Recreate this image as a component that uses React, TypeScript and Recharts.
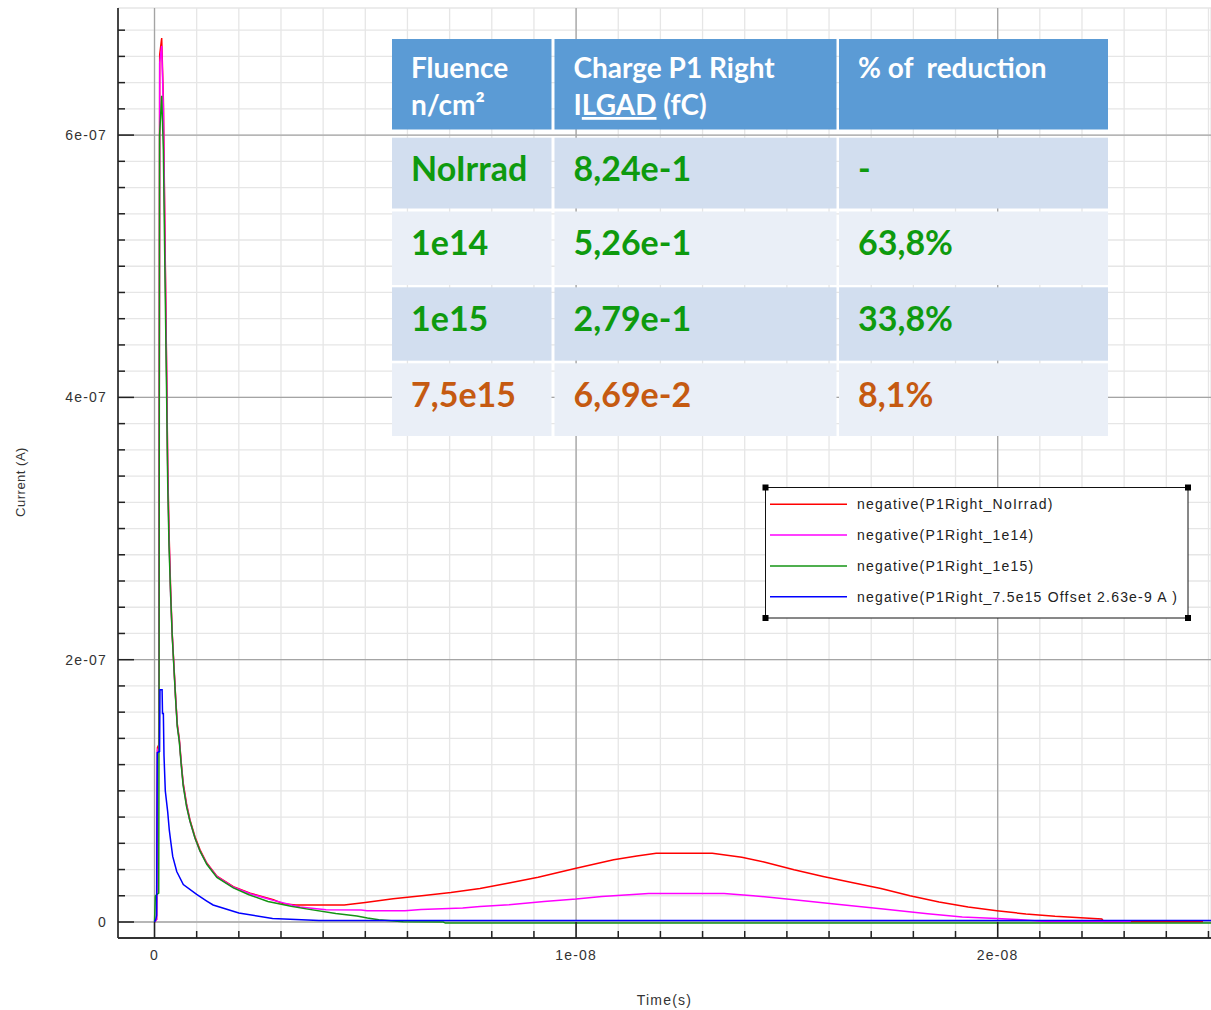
import React from 'react';
import { LineChart, Line, XAxis, YAxis, CartesianGrid, Legend } from 'recharts';

// ---- Series data: time in ns, current in nA (negated signals) ----
const noIrradTimeNs = [0, 0.05, 0.07, 0.1, 0.115, 0.123, 0.17, 0.21, 0.25, 0.29, 0.313, 0.344, 0.384, 0.42, 0.46, 0.5, 0.54, 0.59, 0.63, 0.68, 0.76, 0.84, 0.96, 1.08, 1.24, 1.48, 1.87, 2.27, 2.82, 3.05, 3.35, 4.5, 5.0, 5.66, 6.34, 7.03, 7.72, 8.41, 9.1, 10.0, 10.89, 11.44, 11.9, 13.23, 13.93, 14.48, 15.17, 15.86, 16.54, 17.23, 17.92, 18.61, 19.3, 19.98, 20.67, 21.36, 22.47, 22.52, 24.87];
const noIrradCurrentNa = [0, 2, 133, 135, 450, 661, 674, 627, 518, 415, 349, 298, 252, 220, 196, 172, 151, 139, 123, 106, 90, 78, 65, 55, 45, 35, 27, 22, 17, 14, 12.9, 12.9, 14.9, 17.7, 20.0, 22.5, 25.6, 29.7, 34.2, 41, 47.4, 50.4, 52.5, 52.5, 49.4, 45.6, 39.8, 34.7, 30.1, 25.6, 20.0, 15.2, 11.4, 8.6, 6.1, 4.3, 2.3, 0.2, 0.2];

const fluence1e14TimeNs = [0, 0.05, 0.07, 0.1, 0.115, 0.123, 0.17, 0.21, 0.25, 0.29, 0.313, 0.344, 0.384, 0.42, 0.46, 0.5, 0.54, 0.59, 0.63, 0.68, 0.76, 0.84, 0.96, 1.08, 1.24, 1.48, 1.87, 2.27, 2.82, 3.45, 4.07, 4.9, 5.04, 5.94, 6.32, 7.31, 7.72, 8.41, 9.24, 10.0, 10.61, 11.72, 13.51, 14.2, 15.17, 16.13, 17.23, 18.34, 19.16, 19.98, 20.47, 21.2, 23.16];
const fluence1e14CurrentNa = [0, 2, 131, 133, 445, 655, 668, 622, 512, 410, 344, 293, 248, 219, 195, 171, 150, 138, 122, 105, 89, 77, 64, 54, 44.5, 34.5, 26.5, 21.5, 16.5, 11.4, 9.4, 9.2, 8.6, 8.6, 9.5, 10.6, 11.9, 13.2, 15.7, 17.5, 19.5, 21.7, 21.7, 20.0, 17.0, 13.7, 10.1, 6.3, 3.8, 2.6, 2.0, 0.2, 0.2];

const fluence1e15TimeNs = [0, 0.02, 0.1, 0.107, 0.12, 0.17, 0.21, 0.25, 0.29, 0.313, 0.344, 0.384, 0.42, 0.46, 0.5, 0.54, 0.59, 0.63, 0.68, 0.76, 0.84, 0.96, 1.08, 1.24, 1.48, 1.87, 2.24, 2.69, 3.24, 3.6, 4.3, 4.8, 5.05, 5.32, 5.9, 6.85, 6.9, 25.1];
const fluence1e15CurrentNa = [0, 20, 22, 150, 600, 630, 589, 490, 395, 335, 287, 248, 218, 194, 170, 149, 137, 121, 104, 88, 77, 64, 54, 44, 34, 26, 20.8, 15.7, 12, 10, 6.5, 4.5, 3.0, 1.7, 0.2, 0, -0.8, -0.8];

const fluence7e15TimeNs = [0, 0.03, 0.05, 0.065, 0.12, 0.13, 0.18, 0.19, 0.21, 0.225, 0.256, 0.313, 0.351, 0.391, 0.432, 0.527, 0.683, 1.0, 1.24, 1.39, 2.0, 2.8, 3.9, 25.1];
const fluence7e15CurrentNa = [0, 2, 5, 129, 130, 177, 177, 159, 159, 127, 100, 84, 70, 60, 50, 38.5, 28.5, 21, 16, 13, 6.8, 2.7, 1.2, 1.2];

const seriesNames = [
  'negative(P1Right_NoIrrad)',
  'negative(P1Right_1e14)',
  'negative(P1Right_1e15)',
  'negative(P1Right_7.5e15 Offset 2.63e-9 A )',
];
const seriesColors = ['#ff0000', '#ff00ff', '#149414', '#0000ff'];

// ---- Table contents ----
const tableHeaderLine1 = ['Fluence', 'Charge P1 Right', '% of  reduction'];
const fluenceLabels = ['NoIrrad', '1e14', '1e15', '7,5e15'];
const chargeLabels = ['8,24e-1', '5,26e-1', '2,79e-1', '6,69e-2'];
const reductionLabels = ['-', '63,8%', '33,8%', '8,1%'];
const rowTextColors = ['#0e9a0e', '#0e9a0e', '#0e9a0e', '#c55a11'];

// ---- Axes ----
const NS = 1e-9;
const NA = 1e-9;
const xDomain = [-0.866 * NS, 25.06 * NS];
const yDomain = [-12.2 * NA, 696.9 * NA];
const xTicks = Array.from({ length: 26 }, (_, k) => k * NS);
const yTicks = Array.from({ length: 35 }, (_, k) => k * 20 * NA);
const xMajorValues = [0, 1e-8, 2e-8];
const yMajorValues = [0, 2e-7, 4e-7, 6e-7];

const toPoints = (ts: number[], vs: number[]) => ts.map((t, i) => ({ t: t * NS, v: vs[i] * NA }));
const seriesData = [
  toPoints(noIrradTimeNs, noIrradCurrentNa),
  toPoints(fluence1e14TimeNs, fluence1e14CurrentNa),
  toPoints(fluence1e15TimeNs, fluence1e15CurrentNa),
  toPoints(fluence7e15TimeNs, fluence7e15CurrentNa),
];

const AXIS_FONT = '"Liberation Sans", Arial, sans-serif';
const TABLE_FONT = 'Lato, "Open Sans", sans-serif';

function XTick(props: any) {
  const { x, y, payload } = props;
  const k = Math.round(payload.value / NS);
  const major = k % 10 === 0;
  return (
    <g>
      <line x1={x} x2={x} y1={y} y2={y - (major ? 16 : 7)} stroke="#222" strokeWidth={1.5} />
      {major && (
        <text x={x} y={y + 21.5} textAnchor="middle" fontSize={14} letterSpacing={1.2} fill="#333" fontFamily={AXIS_FONT}>
          {k === 0 ? '0' : `${k / 10}e-08`}
        </text>
      )}
    </g>
  );
}

function YTick(props: any) {
  const { x, y, payload } = props;
  const k = Math.round(payload.value / (20 * NA));
  const major = k % 10 === 0;
  return (
    <g>
      <line x1={x} x2={x + (major ? 16 : 7)} y1={y} y2={y} stroke="#222" strokeWidth={1.5} />
      {major && (
        <text x={x - 11} y={y + 5} textAnchor="end" fontSize={14} letterSpacing={1.2} fill="#333" fontFamily={AXIS_FONT}>
          {k === 0 ? '0' : `${k / 5}e-07`}
        </text>
      )}
    </g>
  );
}

function TimeLabel(props: any) {
  const { viewBox } = props;
  return (
    <text x={viewBox.x + viewBox.width / 2} y={viewBox.y + 67} textAnchor="middle" fontSize={14} letterSpacing={1.2} fill="#333" fontFamily={AXIS_FONT}>
      Time(s)
    </text>
  );
}

function CurrentLabel(props: any) {
  const { viewBox } = props;
  const cx = viewBox.x + 25;
  const cy = 482;
  return (
    <text x={cx} y={cy} transform={`rotate(-90, ${cx}, ${cy})`} textAnchor="middle" fontSize={13} letterSpacing={0.5} fill="#333" fontFamily={AXIS_FONT}>
      Current (A)
    </text>
  );
}

function LegendBox(props: any) {
  const items = [...(props.payload || [])].sort(
    (a: any, b: any) => seriesNames.indexOf(a.value) - seriesNames.indexOf(b.value)
  );
  const W = 429;
  const H = 138;
  const corners = [
    [3.5, 3.5],
    [426, 3.5],
    [3.5, 134],
    [426, 134],
  ];
  return (
    <svg width={W} height={H} style={{ display: 'block' }}>
      <rect x={3.5} y={3.5} width={422.5} height={130.5} fill="#fff" stroke="#111" strokeWidth={1} />
      {corners.map(([cx, cy], i) => (
        <rect key={i} x={cx - 3} y={cy - 3} width={6} height={6} fill="#000" />
      ))}
      {items.map((it: any, i: number) => {
        const yy = 20.3 + i * 30.8;
        return (
          <g key={it.value}>
            <line x1={8} x2={85} y1={yy} y2={yy} stroke={it.color} strokeWidth={1.5} />
            <text x={95} y={yy + 5} fontSize={14} letterSpacing={1.2} fill="#222" fontFamily={AXIS_FONT}>
              {it.value}
            </text>
          </g>
        );
      })}
    </svg>
  );
}

// ---- Table geometry ----
const colLeft = [392, 554.5, 839];
const colRight = [551.5, 836.5, 1108];
const headerTop = 39;
const headerBottom = 129.5;
const rowTop = [137.7, 211.5, 287.3, 363.3];
const rowBottom = [208.5, 285, 360.7, 436];
const rowFills = ['#d2deef', '#eaeff7', '#d2deef', '#eaeff7'];

function ResultsTable() {
  const textX = colLeft.map((l) => l + 19);
  return (
    <svg width={1211} height={1010} style={{ position: 'absolute', left: 0, top: 0, pointerEvents: 'none' }}>
      {colLeft.map((l, c) => (
        <rect key={`h${c}`} x={l} y={headerTop} width={colRight[c] - l} height={headerBottom - headerTop} fill="#5b9bd5" />
      ))}
      {rowTop.map((t, r) =>
        colLeft.map((l, c) => (
          <rect key={`c${r}-${c}`} x={l} y={t} width={colRight[c] - l} height={rowBottom[r] - t} fill={rowFills[r]} />
        ))
      )}
      <g fontFamily={TABLE_FONT} fontWeight={700} fontSize={28} fill="#fff">
        {tableHeaderLine1.map((s, c) => (
          <text key={`hl${c}`} x={textX[c]} y={78} xmlSpace="preserve" style={{ whiteSpace: 'pre' }}>{s}</text>
        ))}
        <text x={textX[0]} y={115}>n/cm²</text>
        <text x={textX[1]} y={115} xmlSpace="preserve" style={{ whiteSpace: 'pre' }}>
          I<tspan style={{ textDecoration: 'underline' }}>LGAD</tspan> (fC)
        </text>
      </g>
      <g fontFamily={TABLE_FONT} fontWeight={700} fontSize={34}>
        {rowTop.map((t, r) => (
          <g key={`r${r}`} fill={rowTextColors[r]}>
            <text x={textX[0]} y={t + 43.5}>{fluenceLabels[r]}</text>
            <text x={textX[1]} y={t + 43.5}>{chargeLabels[r]}</text>
            <text x={textX[2]} y={t + 43.5}>{reductionLabels[r]}</text>
          </g>
        ))}
      </g>
    </svg>
  );
}

export default function App() {
  const frame = { stroke: '#333', strokeWidth: 1.8 };
  return (
    <div style={{ position: 'absolute', left: 0, top: 0, width: 1211, height: 1010, background: '#fff', overflow: 'hidden' }}>
      <LineChart width={1211} height={1010} margin={{ top: 8, right: 0, bottom: 0, left: 0 }}>
        <CartesianGrid stroke="#e6e6e6" strokeWidth={1.3} />
        <CartesianGrid stroke="#a4a4a4" strokeWidth={1.3} horizontalValues={yMajorValues} verticalValues={xMajorValues} />
        <XAxis
          dataKey="t"
          type="number"
          domain={xDomain}
          ticks={xTicks}
          interval={0}
          allowDataOverflow
          height={72}
          tickSize={0}
          tickMargin={0}
          tickLine={false}
          tick={<XTick />}
          axisLine={frame}
          label={{ content: TimeLabel }}
        />
        <XAxis xAxisId="top" orientation="top" type="number" domain={xDomain} allowDataOverflow height={0} tick={false} tickLine={false} axisLine={frame} />
        <YAxis
          type="number"
          domain={yDomain}
          ticks={yTicks}
          interval={0}
          allowDataOverflow
          width={118}
          tickSize={0}
          tickMargin={0}
          tickLine={false}
          tick={<YTick />}
          axisLine={frame}
          label={{ content: CurrentLabel }}
        />
        <Legend
          layout="horizontal"
          verticalAlign="middle"
          align="center"
          wrapperStyle={{ left: 762, top: 484, width: 429, height: 138, right: 'auto', bottom: 'auto' }}
          content={LegendBox}
        />
        {seriesData.map((d, i) => (
          <Line
            key={seriesNames[i]}
            data={d}
            dataKey="v"
            name={seriesNames[i]}
            stroke={seriesColors[i]}
            strokeWidth={1.5}
            dot={false}
            activeDot={false}
            type="linear"
            isAnimationActive={false}
          />
        ))}
      </LineChart>
      <ResultsTable />
    </div>
  );
}
